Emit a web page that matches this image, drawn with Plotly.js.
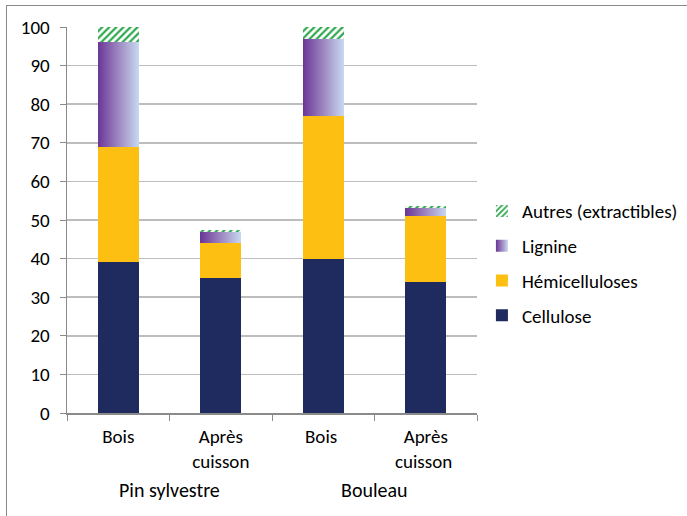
<!DOCTYPE html>
<html>
<head>
<meta charset="utf-8">
<script src="https://cdn.plot.ly/plotly-3.0.1.min.js"></script>
<style>
html,body{margin:0;padding:0;background:#fff;}
#wrap{position:relative;width:687px;height:516px;overflow:hidden;}
#chart{width:687px;height:516px;}
#frame{position:absolute;left:6px;top:5px;width:700px;height:600px;border-left:1.5px solid #8a8a8a;border-top:1.5px solid #8a8a8a;pointer-events:none;}
</style>
</head>
<body>
<div id="wrap"><div id="chart"></div><div id="frame"></div></div>
<script>
const categories = ["Bois", "Après<br>cuisson", "Bois ", "Après<br>cuisson "];
const groups = ["Pin sylvestre", "Bouleau"];
const groupCenters = [0.5, 2.5];
const cellulose = [39, 35, 40, 34];
const hemicelluloses = [30, 9, 37, 17];
const lignine = [27, 3, 20, 2];
const autres = [4, 0.5, 3, 0.5];
const yTicks = [0,10,20,30,40,50,60,70,80,90,100];

const FONT = "Carlito, Lato, 'Open Sans', sans-serif";
const FS = 19;
const W = 0.4;
const traces = [
  {type:'bar', name:'Cellulose', x:categories, y:cellulose, width:W,
   marker:{color:'#1f2a5e', line:{width:0}}, legendgroup:'d', legendrank:4},
  {type:'bar', name:'Hémicelluloses', x:categories, y:hemicelluloses, width:W,
   marker:{color:'#fdc012', line:{width:0}}, legendgroup:'c', legendrank:3},
  {type:'bar', name:'Lignine', x:categories, y:lignine, width:W,
   marker:{color:'#9a7fbf', line:{width:0}}, legendgroup:'b', legendrank:2},
  {type:'bar', name:'Autres (extractibles)', x:categories, y:autres, width:W,
   marker:{color:'#ffffff', line:{width:0},
     pattern:{shape:'/', fgcolor:'#2fa84f', bgcolor:'#ffffff', size:5, solidity:0.45}}, legendgroup:'a', legendrank:1}
];

const layout = {
  width:687, height:516,
  margin:{l:67, r:210, t:27, b:103, autoexpand:false},
  paper_bgcolor:'#ffffff', plot_bgcolor:'#ffffff',
  barmode:'stack',
  font:{family:FONT, size:FS, color:'#000'},
  showlegend:true,
  legend:{x:1.012, xanchor:'left', y:0.572, yanchor:'top', traceorder:'grouped',
    tracegroupgap:7, font:{family:FONT, size:FS, color:'#000'}, bgcolor:'rgba(0,0,0,0)'},
  xaxis:{type:'category', tickson:'boundaries', ticks:'outside', ticklen:6, tickcolor:'#8a8a8a',
    showline:true, linecolor:'#8a8a8a', linewidth:1.5, showgrid:false, zeroline:false,
    tickfont:{family:FONT, size:FS, color:'#000'}, ticklabelstandoff:6},
  yaxis:{range:[0,100], tickvals:yTicks, ticktext:yTicks.map(String), ticks:'outside', ticklen:6,
    tickcolor:'#8a8a8a', showline:true, linecolor:'#8a8a8a', linewidth:1.5,
    showgrid:true, gridcolor:'#bdbdbd', gridwidth:1.5, zeroline:false,
    tickfont:{family:FONT, size:FS, color:'#000'}, ticklabelstandoff:6},
  annotations: groups.map((g,i)=>({text:g, x:groupCenters[i], xref:'x', y:-0.2, yref:'paper',
    showarrow:false, font:{family:FONT, size:FS+1, color:'#000'}, yanchor:'middle'}))
};

Plotly.newPlot('chart', traces, layout, {displayModeBar:false, staticPlot:true}).then(gd=>{
  const svg = gd.querySelector('svg.main-svg');
  const NS = 'http://www.w3.org/2000/svg';
  let defs = svg.querySelector('defs');
  if(!defs){defs = document.createElementNS(NS,'defs'); svg.insertBefore(defs, svg.firstChild);}
  const lg = document.createElementNS(NS,'linearGradient');
  lg.setAttribute('id','ligGrad'); lg.setAttribute('x1','0'); lg.setAttribute('x2','1');
  lg.setAttribute('y1','0'); lg.setAttribute('y2','0');
  [['0','#6a3597'],['0.5','#9d86c0'],['1','#c8d8f0']].forEach(([o,c])=>{
    const s=document.createElementNS(NS,'stop'); s.setAttribute('offset',o); s.setAttribute('stop-color',c); lg.appendChild(s);
  });
  defs.appendChild(lg);
  const barTraces = gd.querySelectorAll('.barlayer .trace');
  if(barTraces[2]) barTraces[2].querySelectorAll('path').forEach(p=>{p.style.fill='url(#ligGrad)';});
  gd.querySelectorAll('.legend .traces').forEach(t=>{
    const txt = t.querySelector('.legendtext');
    if(txt && txt.textContent==='Lignine'){
      t.querySelectorAll('.legendpoints path').forEach(p=>{p.style.fill='url(#ligGrad)';});
    }
  });
});
</script>
</body>
</html>
